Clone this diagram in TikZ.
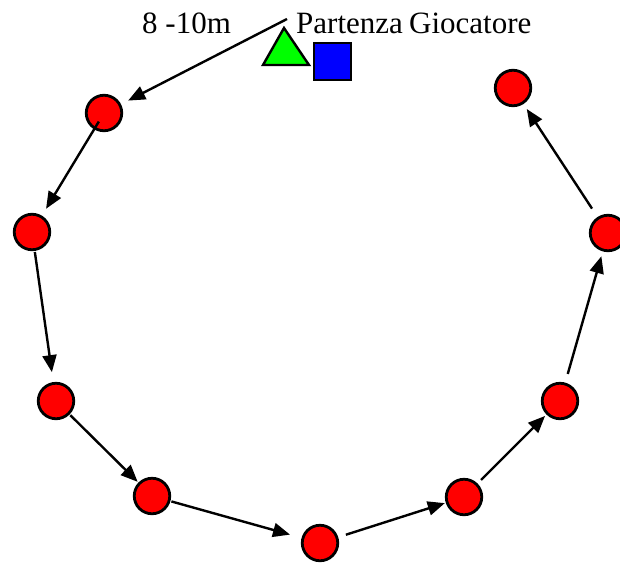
\documentclass[tikz,border=0pt]{standalone}
\usepackage{fontspec}
\setmainfont{Liberation Serif}
\usetikzlibrary{arrows.meta}
\begin{document}
\begin{tikzpicture}[x=1pt,y=-1pt,
  cone/.style={circle,draw=black,fill=red,line width=2.8pt,minimum size=35.5pt,inner sep=0pt},
  arr/.style={line width=2.4pt,-{Triangle[length=17pt,width=14pt]}},
  lbl/.style={anchor=base west,inner sep=0pt,font=\fontsize{31}{31}\selectfont}]
\useasboundingbox (0,0) rectangle (620,562);
\node[cone] (c1) at (104,113) {};
\node[cone] (c2) at (32,232) {};
\node[cone] (c3) at (56,401) {};
\node[cone] (c4) at (152,496) {};
\node[cone] (c5) at (320,543) {};
\node[cone] (c6) at (464,497) {};
\node[cone] (c7) at (560,401) {};
\node[cone] (c8) at (608,233) {};
\node[cone] (c9) at (513,88) {};
\node[lbl] (dist) at (142,33) {8 -10m};
\node[lbl] (part) at (296,33) {Partenza};
\node[lbl] (gioc) at (409,33) {Giocatore};
\coordinate (start) at (287,19);
\draw[line width=2.4pt,fill=green] (284,28) -- (309,65) -- (263,65) -- cycle;
\node[draw=black,fill=blue,line width=2.4pt,minimum size=37pt,inner sep=0pt] (player) at (332.5,61.5) {};
\draw[arr,shorten >=8pt] (start) -- (c1);
\draw[arr,shorten <=10pt,shorten >=8pt] (c1.center) -- (c2);
\draw[arr,shorten <=1pt,shorten >=10pt] (c2) -- (c3);
\draw[arr,shorten <=1pt,shorten >=1pt] (c3) -- (c4);
\draw[arr,shorten <=1pt,shorten >=12pt] (c4) -- (c5);
\draw[arr,shorten <=8pt,shorten >=1pt] (c5) -- (c6);
\draw[arr,shorten <=5pt,shorten >=2pt] (c6) -- (c7);
\draw[arr,shorten <=9pt,shorten >=5pt] (c7) -- (c8);
\draw[arr,shorten <=10pt,shorten >=6pt] (c8) -- (c9);
\end{tikzpicture}
\end{document}
